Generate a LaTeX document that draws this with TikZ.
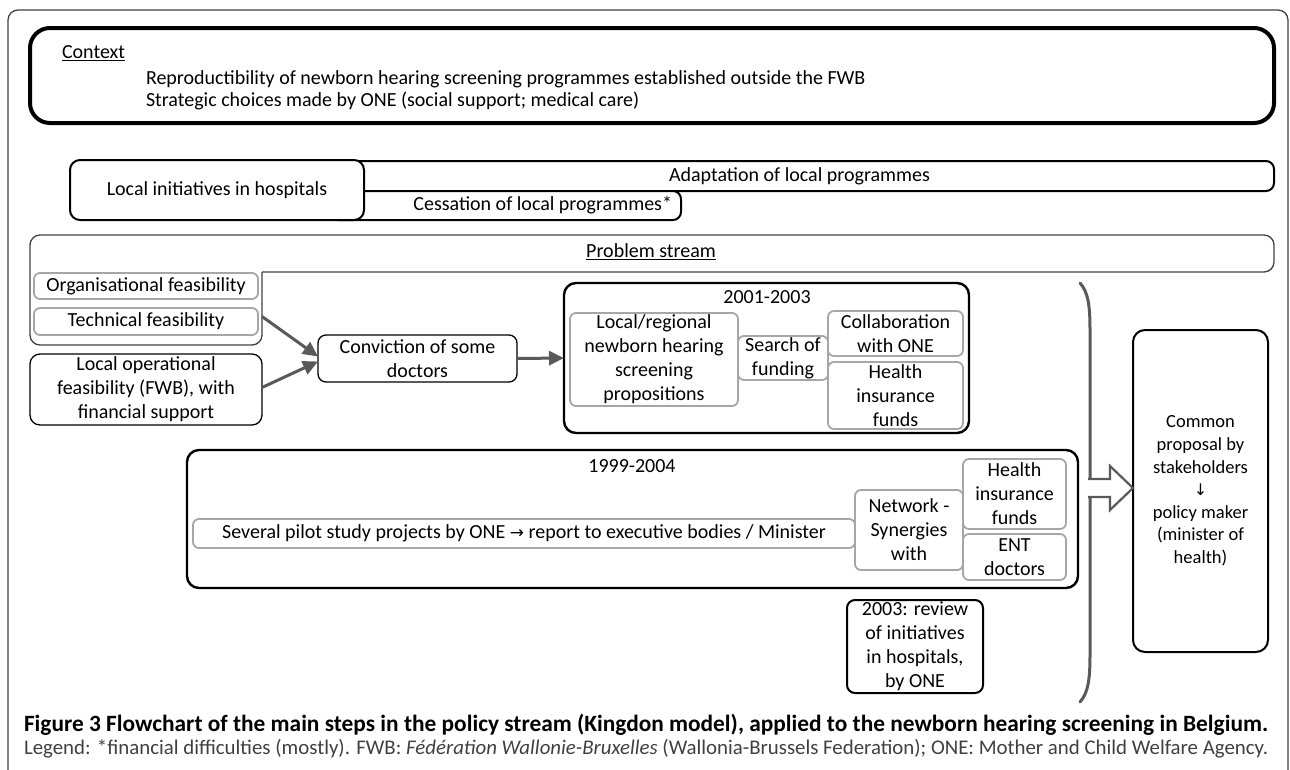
\documentclass[tikz,border=0pt]{standalone}
\usepackage{graphicx}
\usepackage{fontspec}
\setmainfont{Carlito}
\newfontfamily\arrfont{DejaVu Sans}
\usetikzlibrary{arrows.meta,calc}
\definecolor{boxgray}{HTML}{A6A6A6}
\definecolor{arrgray}{HTML}{595959}
\definecolor{leggray}{HTML}{404040}
\definecolor{framegray}{HTML}{404040}
\begin{document}
\begin{tikzpicture}[x=1pt,y=-1pt,
  every node/.style={font=\fontsize{20}{24}\selectfont, align=center, inner sep=0pt, outer sep=0pt},
  bk/.style={draw=black, line width=1.3pt, rounded corners=8pt, fill=white},
  bkmid/.style={draw=black, line width=2pt, rounded corners=8pt, fill=white},
  bkthick/.style={draw=black, line width=2.4pt, rounded corners=12pt},
  gbox/.style={draw=boxgray, line width=1.8pt, rounded corners=6pt, fill=white},
  conn/.style={draw=arrgray, line width=3pt, -{Triangle[length=15pt,width=14pt]}},
  bigarr/.style={draw=arrgray, line width=2.2pt, fill=white, line join=miter},
  frame/.style={draw=framegray, line width=1.3pt, rounded corners=10pt},
]
\useasboundingbox (0,0) rectangle (1290,769);
% outer frame
\draw[frame] (8,775) -- (8,10) -- (1288,10) -- (1288,775);

% context
\node[draw=black, line width=4pt, rounded corners=20pt, minimum width=1244pt, minimum height=95pt] (ctx) at (652,75.5) {};
\node[anchor=west] (ctxlbl) at (62,53) {\underline{Context}};
\node[anchor=west] (ctx1) at (146,79) {Reproductibility of newborn hearing screening programmes established outside the FWB};
\node[anchor=west] (ctx2) at (146,101) {Strategic choices made by ONE (social support; medical care)};

% local initiatives row
\node[bkmid, minimum width=949pt, minimum height=30pt] (adapt) at (799.5,176) {Adaptation of local programmes};
\node[bkmid, minimum width=351pt, minimum height=29pt] (cess) at (505.5,205.5) {};
\node[anchor=east] (cesslbl) at (672,205) {Cessation of local programmes*};
\node[bkmid, rounded corners=10pt, minimum width=294pt, minimum height=60pt] (locinit) at (217,190) {Local initiatives in hospitals};

% problem stream
\draw[frame] (262,272) -- (1274,272) -- (1274,235) -- (30,235) -- (30,345) -- (262,345) -- (262,272);
\node (ps) at (651,252) {\underline{Problem stream}};

\node[gbox, minimum width=224pt, minimum height=26pt] (org) at (146,286) {Organisational feasibility};
\node[gbox, minimum width=224pt, minimum height=27pt] (tech) at (146,321.5) {Technical feasibility};
\node[bk, minimum width=232pt, minimum height=71pt, rounded corners=10pt] (locop) at (146,389.5) {Local operational\\feasibility (FWB), with\\financial support};
\node[bk, minimum width=199pt, minimum height=47pt] (conv) at (417.5,358.5) {Conviction of some\\doctors};

\draw[conn] ($(tech.east)+(4,-5)$) -- ($(conv.west)+(0,-2)$);
\draw[conn] ($(locop.east)+(0,-2)$) -- ($(conv.west)+(0,3)$);

% 2001-2003
\node[bkthick, minimum width=405pt, minimum height=150pt] (b2001) at (766.5,358) {};
\draw[conn] (conv.east) -- (b2001.west);
\node (l2001) at (767,297) {2001-2003};
\node[gbox, minimum width=168pt, minimum height=93pt] (locreg) at (654,359.5) {Local/regional\\newborn hearing\\screening\\propositions};
\node[gbox, minimum width=90pt, minimum height=44pt] (search) at (783,358) {Search of\\funding};
\node[gbox, minimum width=135pt, minimum height=45pt] (collab) at (895.5,333.5) {Collaboration\\with ONE};
\node[gbox, minimum width=135pt, minimum height=67pt] (health1) at (895.5,395.5) {Health\\insurance\\funds};

% 1999-2004
\node[bkthick, minimum width=891pt, minimum height=138pt] (b1999) at (632.5,519) {};
\node (l1999) at (632,466) {1999-2004};
\node[gbox, minimum width=662pt, minimum height=29pt] (several) at (524,533.5) {Several pilot study projects by ONE {\arrfont\fontsize{17}{20}\selectfont →} report to executive bodies / Minister};
\node[gbox, minimum width=108pt, minimum height=80pt] (network) at (909,530) {Network -\\Synergies\\with};
\node[gbox, minimum width=103pt, minimum height=70pt] (health2) at (1014.5,494) {Health\\insurance\\funds};
\node[gbox, minimum width=103pt, minimum height=46pt] (ent) at (1014.5,557) {ENT\\doctors};

% review
\node[bkmid, minimum width=136pt, minimum height=93pt] (review) at (915,646.5) {2003: review\\of initiatives\\in hospitals,\\by ONE};

% bracket
\draw[arrgray, line width=3pt, line cap=round] (1080,283) .. controls (1088,292) and (1090,305) .. (1090,330) -- (1090,655) .. controls (1090,680) and (1088,693) .. (1080,702);

% common proposal
\node[bkmid, rounded corners=12pt, minimum width=135pt, minimum height=322pt, font=\fontsize{18.5}{22.6}\selectfont] (common) at (1200.5,491) {Common\\proposal by\\stakeholders\\{\arrfont\fontsize{16}{20}\selectfont ↓}\\policy maker\\(minister of\\health)};
\coordinate (tip) at ($(common.west)+(0,-3)$);
\draw[bigarr] ($(tip)+(-45,-9)$) -- ($(tip)+(-23,-9)$) -- ($(tip)+(-23,-22)$) -- (tip) -- ($(tip)+(-23,22)$) -- ($(tip)+(-23,9)$) -- ($(tip)+(-45,9)$);

% caption
\node[anchor=west] (cap) at (24,725) {\resizebox{1244pt}{!}{\bfseries Figure 3 Flowchart of the main steps in the policy stream (Kingdon model), applied to the newborn hearing screening in Belgium.}};
\node[anchor=west, text=leggray] (leg) at (24,749) {\resizebox{1244pt}{!}{Legend: *financial difficulties (mostly). FWB: \textit{Fédération Wallonie-Bruxelles} (Wallonia-Brussels Federation); ONE: Mother and Child Welfare Agency.}};
\end{tikzpicture}
\end{document}
